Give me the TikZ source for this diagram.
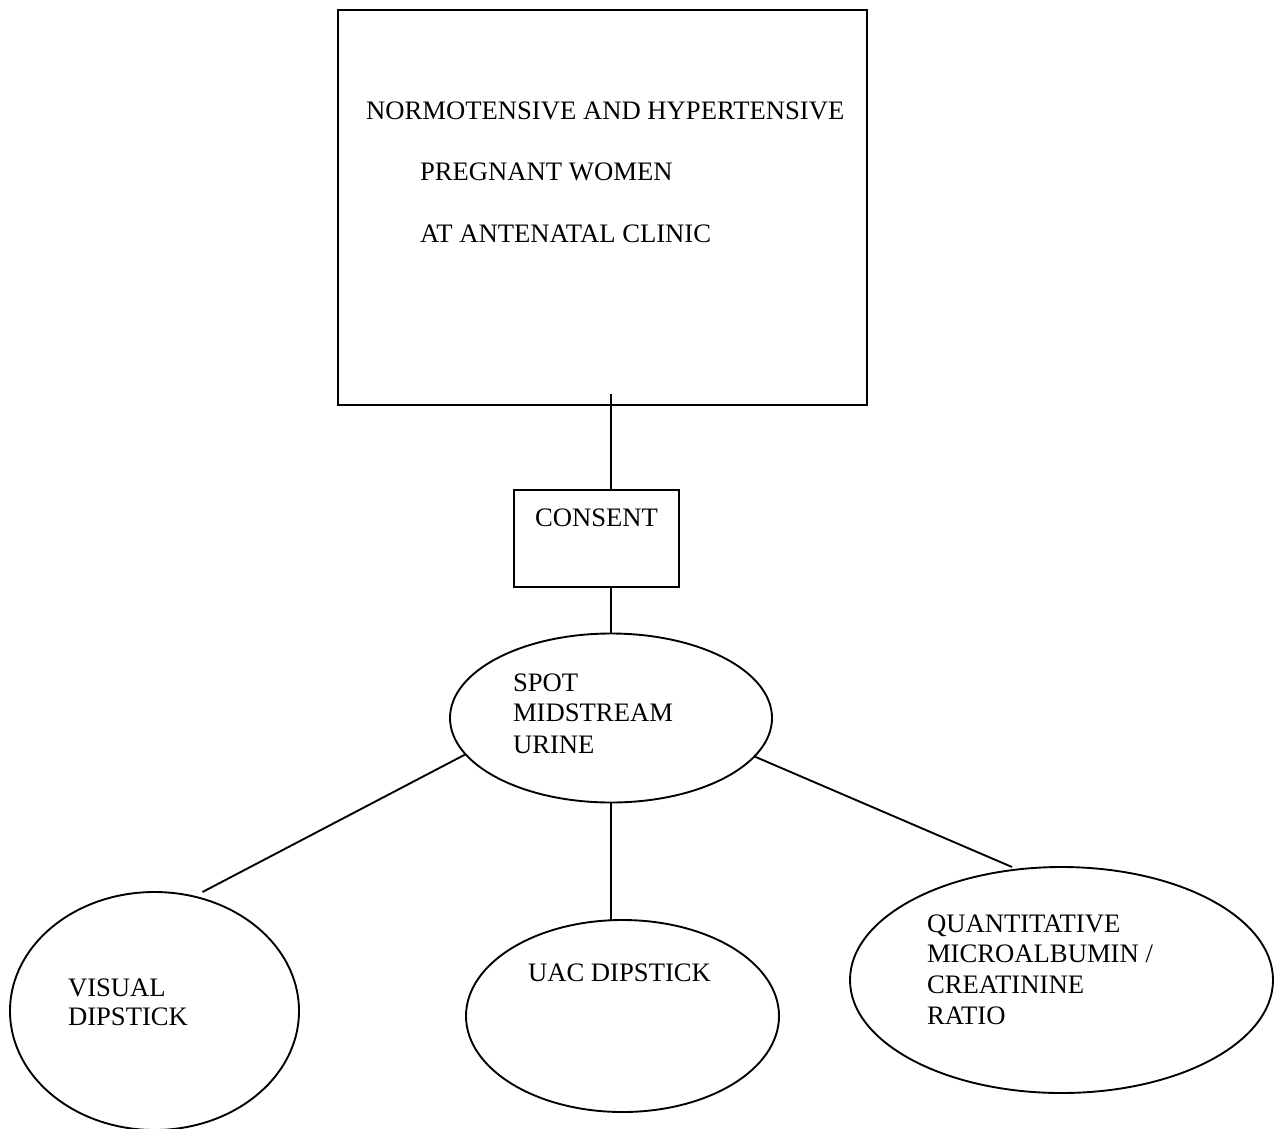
\documentclass[tikz,border=0pt]{standalone}
\usepackage{fontspec}
\setmainfont{Liberation Serif}
\usetikzlibrary{shapes.geometric,fit,calc}
\def\upx{0.45pt}
\tikzset{
  link/.style={line width=0.85pt, line cap=butt},
  boxshape/.style={draw, line width=0.85pt, rectangle, inner sep=0pt, outer sep=0pt},
  oval/.style={draw, line width=0.85pt, ellipse, inner sep=0pt, outer sep=0pt},
  lbl/.style={anchor=base west, inner sep=0pt, outer sep=0pt,
              font=\fontsize{12}{13.8}\selectfont}
}
\begin{document}
\begin{tikzpicture}[x=0.45pt, y=-0.45pt]
  \fill[white] (0,0) rectangle (1281,1128);
  \useasboundingbox (0,0) rectangle (1281,1128);

  % boxes
  \node[boxshape, fit={(338,10) (867,405)}] (top) {};
  \node[boxshape, fit={(514,490) (679,587)}] (consent) {};

  % ovals
  \node[oval, minimum width=322*\upx, minimum height=169*\upx] (spot) at (611,718) {};
  \node[oval, minimum width=289*\upx, minimum height=238*\upx] (visual) at (154.5,1011) {};
  \node[oval, minimum width=313*\upx, minimum height=192*\upx] (uac) at (622.5,1016) {};
  \node[oval, minimum width=423*\upx, minimum height=226*\upx] (quant) at (1061.5,980) {};

  % texts
  \node[lbl] (t1) at (366,119) {NORMOTENSIVE AND HYPERTENSIVE};
  \node[lbl] (t2) at (420,180) {PREGNANT WOMEN};
  \node[lbl] (t3) at (420,242) {AT ANTENATAL CLINIC};
  \node[lbl] (c1) at (535,526) {CONSENT};
  \node[lbl] (s1) at (513,691) {SPOT};
  \node[lbl] (s2) at (513,721) {MIDSTREAM};
  \node[lbl] (s3) at (513,753) {URINE};
  \node[lbl] (v1) at (68,996) {VISUAL};
  \node[lbl] (v2) at (68,1025) {DIPSTICK};
  \node[lbl] (u1) at (528,981) {UAC DIPSTICK};
  \node[lbl] (q1) at (927,932) {QUANTITATIVE};
  \node[lbl] (q2) at (927,962) {MICROALBUMIN /};
  \node[lbl] (q3) at (927,993) {CREATININE};
  \node[lbl] (q4) at (927,1024) {RATIO};

  % connectors
  \coordinate (trunk) at ($(top.south -| spot.north)+(0,-11)$);
  \draw[link] (trunk) -- (consent.north -| spot.north);
  \draw[link] (consent.south -| spot.north) -- (spot.north);
  \draw[link] (spot.194.8) -- ($(visual.north)+(48,0)$);
  \draw[link] (spot.south) -- (spot.south |- uac.north);
  \draw[link] (spot.345.2) -- ($(quant.north)+(-49.5,0)$);
\end{tikzpicture}
\end{document}
